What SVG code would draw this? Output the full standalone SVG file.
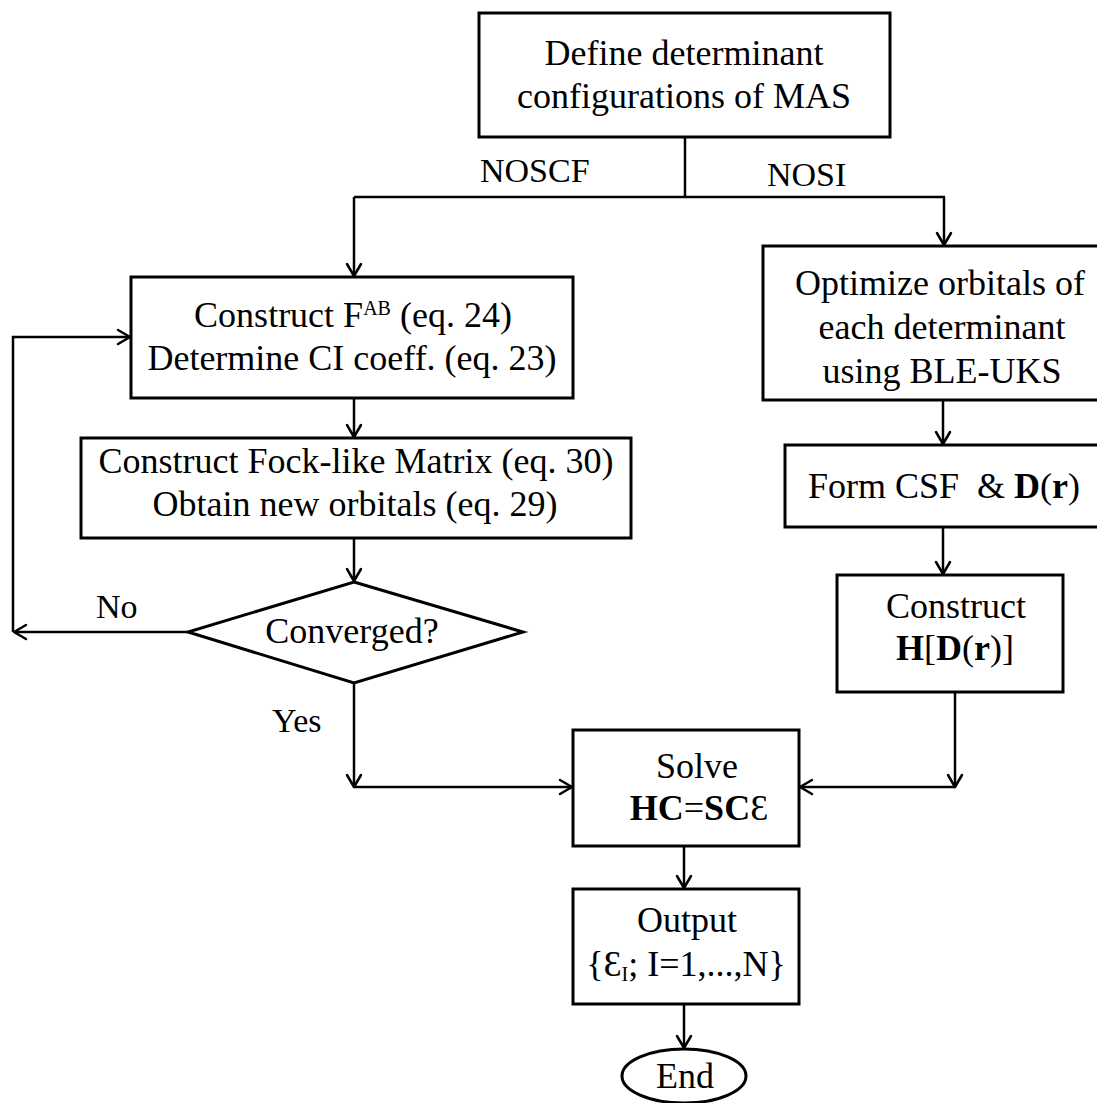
<svg xmlns="http://www.w3.org/2000/svg" width="1097" height="1103" viewBox="0 0 1097 1103">
<style>
.box{fill:#fff;stroke:#000;stroke-width:3}
.ln{fill:none;stroke:#000;stroke-width:2.5}
text{font-size:36px;fill:#000;text-anchor:middle}
.lbl{font-size:34px;text-anchor:start}
.b{font-weight:bold}
.n{font-weight:normal}
</style>
<defs>
<marker id="ah" markerUnits="userSpaceOnUse" viewBox="-14 -9 16 18" markerWidth="16" markerHeight="18" refX="0" refY="0" orient="auto">
<path d="M-12,-7 L0,0 L-12,7" fill="none" stroke="#000" stroke-width="2.5" stroke-linecap="round" stroke-linejoin="round"/>
</marker>
</defs>
<rect width="1097" height="1103" fill="#fff"/>
<g id="connectors">
<path class="ln" d="M685,137 V197"/>
<path class="ln" d="M354,197 H945"/>
<path class="ln" d="M354,197 V276" marker-end="url(#ah)"/>
<path class="ln" d="M944,197 V245" marker-end="url(#ah)"/>
<path class="ln" d="M354,398 V437" marker-end="url(#ah)"/>
<path class="ln" d="M354,538 V581" marker-end="url(#ah)"/>
<path class="ln" d="M188,632 H14" marker-end="url(#ah)"/>
<path class="ln" d="M13,632 V337 H130" marker-end="url(#ah)"/>
<path class="ln" d="M354,683 V787" marker-end="url(#ah)"/>
<path class="ln" d="M354,787 H572" marker-end="url(#ah)"/>
<path class="ln" d="M943,400 V444" marker-end="url(#ah)"/>
<path class="ln" d="M943,527 V574" marker-end="url(#ah)"/>
<path class="ln" d="M955,692 V787" marker-end="url(#ah)"/>
<path class="ln" d="M955,787 H800" marker-end="url(#ah)"/>
<path class="ln" d="M684,846 V888" marker-end="url(#ah)"/>
<path class="ln" d="M684,1004 V1048" marker-end="url(#ah)"/>
</g>
<g font-family="Liberation Serif, Times New Roman, DejaVu Serif, serif">
<g id="labels">
<text class="lbl" x="480" y="182">NOSCF</text>
<text class="lbl" x="767" y="186">NOSI</text>
<text class="lbl" x="96" y="618">No</text>
<text class="lbl" x="272" y="732">Yes</text>
</g>
<g id="define">
<rect class="box" x="479" y="13" width="411" height="124"/>
<text x="684" y="65">Define determinant</text>
<text x="684" y="108">configurations of MAS</text>
</g>
<g id="constructF">
<rect class="box" x="131" y="277" width="442" height="121"/>
<text x="353" y="327">Construct F<tspan font-size="20" dy="-12">AB</tspan><tspan dy="12"> (eq. 24)</tspan></text>
<text x="352" y="370">Determine CI coeff. (eq. 23)</text>
</g>
<g id="fock">
<rect class="box" x="81" y="438" width="550" height="100"/>
<text x="356" y="473">Construct Fock-like Matrix (eq. 30)</text>
<text x="355" y="516">Obtain new orbitals (eq. 29)</text>
</g>
<g id="converged">
<polygon class="box" points="354,582 523,632 354,683 188,632"/>
<text x="352" y="643">Converged?</text>
</g>
<g id="optimize">
<rect class="box" x="763" y="246" width="340" height="154"/>
<text x="940" y="295">Optimize orbitals of</text>
<text x="942" y="339">each determinant</text>
<text x="942" y="383">using BLE-UKS</text>
</g>
<g id="formcsf">
<rect class="box" x="785" y="445" width="320" height="82"/>
<text x="944" y="498" xml:space="preserve">Form CSF  &amp; <tspan class="b">D</tspan>(<tspan class="b">r</tspan>)</text>
</g>
<g id="constructH">
<rect class="box" x="837" y="575" width="226" height="117"/>
<text x="956" y="618">Construct</text>
<text x="955" y="660"><tspan class="b">H</tspan>[<tspan class="b">D</tspan>(<tspan class="b">r</tspan>)]</text>
</g>
<g id="solve">
<rect class="box" x="573" y="730" width="226" height="116"/>
<text x="697" y="778">Solve</text>
<text x="699" y="820"><tspan class="b">HC</tspan>=<tspan class="b">SC</tspan>Ɛ</text>
</g>
<g id="output">
<rect class="box" x="573" y="889" width="226" height="115"/>
<text x="687" y="932">Output</text>
<text x="686" y="976">{Ɛ<tspan font-size="20" dy="5">I</tspan><tspan dy="-5">; I=1,...,N}</tspan></text>
</g>
<g id="end">
<ellipse class="box" cx="684" cy="1076" rx="62" ry="27"/>
<text x="685" y="1088">End</text>
</g>
</g>
</svg>
